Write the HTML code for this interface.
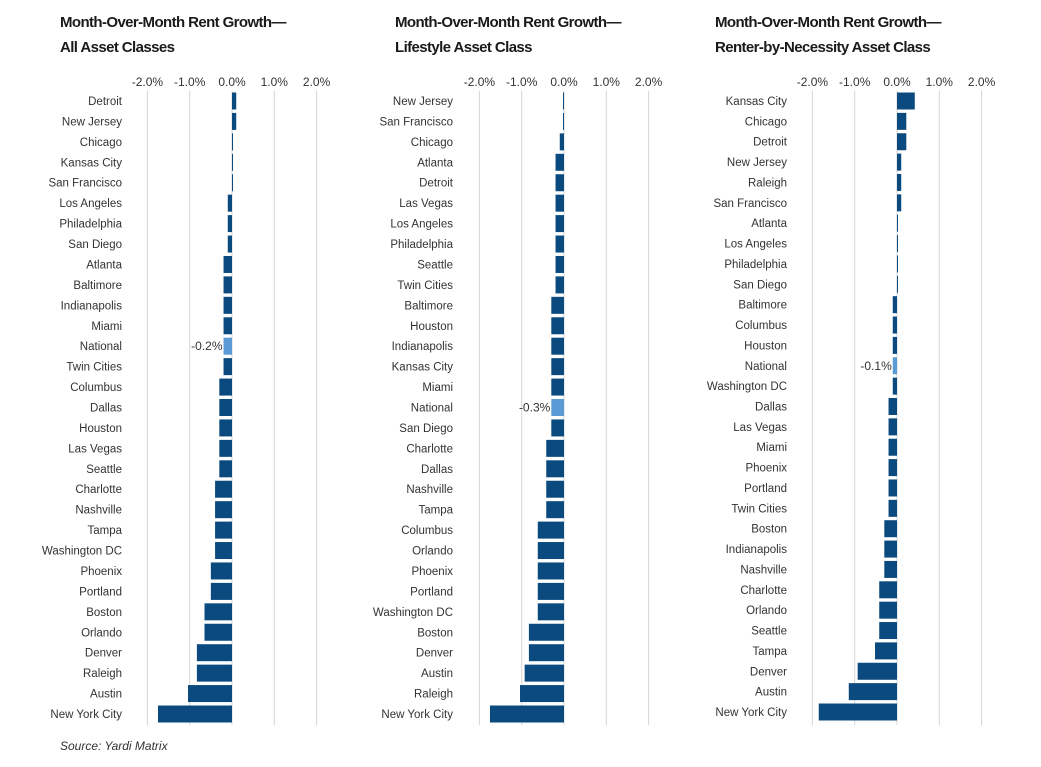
<!DOCTYPE html>
<html><head><meta charset="utf-8"><style>
html,body{margin:0;padding:0;background:#fff;}
svg{display:block;font-family:"Liberation Sans",sans-serif;}
.t{font-weight:bold;font-size:15px;fill:#1a1a1a;letter-spacing:-0.6px}
.k{font-size:12px;fill:#333;text-anchor:middle}
.l{font-size:11.5px;fill:#333;text-anchor:end}
</style></head><body>
<svg id="s" width="1041" height="767" viewBox="0 0 1041 767" xmlns="http://www.w3.org/2000/svg">
<text class="t" x="60" y="27">Month-Over-Month Rent Growth—</text>
<text class="t" x="60" y="52">All Asset Classes</text>
<text class="t" x="395" y="27">Month-Over-Month Rent Growth—</text>
<text class="t" x="395" y="52">Lifestyle Asset Class</text>
<text class="t" x="715" y="27">Month-Over-Month Rent Growth—</text>
<text class="t" x="715" y="52">Renter-by-Necessity Asset Class</text>
<text x="60" y="750" style="font-size:12px;font-style:italic;fill:#333">Source: Yardi Matrix</text>
</svg>
<script>
var P=[
{z:232,lx:122,y0:101,y1:714,d:[["Detroit",.1],["New Jersey",.1],["Chicago",.01],["Kansas City",.01],["San Francisco",.01],["Los Angeles",-.1],["Philadelphia",-.1],["San Diego",-.1],["Atlanta",-.2],["Baltimore",-.2],["Indianapolis",-.2],["Miami",-.2],["National",-.2,1],["Twin Cities",-.2],["Columbus",-.3],["Dallas",-.3],["Houston",-.3],["Las Vegas",-.3],["Seattle",-.3],["Charlotte",-.4],["Nashville",-.4],["Tampa",-.4],["Washington DC",-.4],["Phoenix",-.5],["Portland",-.5],["Boston",-.65],["Orlando",-.65],["Denver",-.83],["Raleigh",-.83],["Austin",-1.04],["New York City",-1.75]]},
{z:564,lx:453,y0:101,y1:714,d:[["New Jersey",-.01],["San Francisco",-.01],["Chicago",-.1],["Atlanta",-.2],["Detroit",-.2],["Las Vegas",-.2],["Los Angeles",-.2],["Philadelphia",-.2],["Seattle",-.2],["Twin Cities",-.2],["Baltimore",-.3],["Houston",-.3],["Indianapolis",-.3],["Kansas City",-.3],["Miami",-.3],["National",-.3,1],["San Diego",-.3],["Charlotte",-.42],["Dallas",-.42],["Nashville",-.42],["Tampa",-.42],["Columbus",-.62],["Orlando",-.62],["Phoenix",-.62],["Portland",-.62],["Washington DC",-.62],["Boston",-.83],["Denver",-.83],["Austin",-.93],["Raleigh",-1.04],["New York City",-1.75]]},
{z:897,lx:787,y0:101,y1:712,d:[["Kansas City",.42],["Chicago",.22],["Detroit",.22],["New Jersey",.1],["Raleigh",.1],["San Francisco",.1],["Atlanta",.01],["Los Angeles",.01],["Philadelphia",.01],["San Diego",.01],["Baltimore",-.1],["Columbus",-.1],["Houston",-.1],["National",-.1,1],["Washington DC",-.1],["Dallas",-.2],["Las Vegas",-.2],["Miami",-.2],["Phoenix",-.2],["Portland",-.2],["Twin Cities",-.2],["Boston",-.3],["Indianapolis",-.3],["Nashville",-.3],["Charlotte",-.42],["Orlando",-.42],["Seattle",-.42],["Tampa",-.52],["Denver",-.93],["Austin",-1.14],["New York City",-1.85]]}];
var s=document.getElementById('s'),h='';
P.forEach(function(p){
 var u=42.3,ticks=["-2.0%","-1.0%","0.0%","1.0%","2.0%"];
 for(var i=0;i<5;i++){var x=p.z+(i-2)*u;
  h+='<line x1="'+x+'" y1="91" x2="'+x+'" y2="725" stroke="#d6d6d6" stroke-width="1"/>';
  h+='<text class="k" x="'+x+'" y="86">'+ticks[i]+'</text>';}
 var n=p.d.length,st=(p.y1-p.y0)/(n-1);
 p.d.forEach(function(r,j){var y=p.y0+j*st,v=r[1],w=Math.max(Math.abs(v)*u,1),x=v<0?p.z-w:p.z;
  h+='<text class="l" x="'+p.lx+'" y="'+(y+4)+'">'+r[0]+'</text>';
  h+='<rect x="'+x+'" y="'+(y-8.5)+'" width="'+w+'" height="17" fill="'+(r[2]?'#5b9bd5':'#0b4a7e')+'"/>';
  if(r[2])h+='<text class="l" style="font-size:12px" x="'+(x-1)+'" y="'+(y+4)+'">'+(v.toFixed(1))+'%</text>';
 });
});
s.insertAdjacentHTML('beforeend',h);
</script>
</body></html>
